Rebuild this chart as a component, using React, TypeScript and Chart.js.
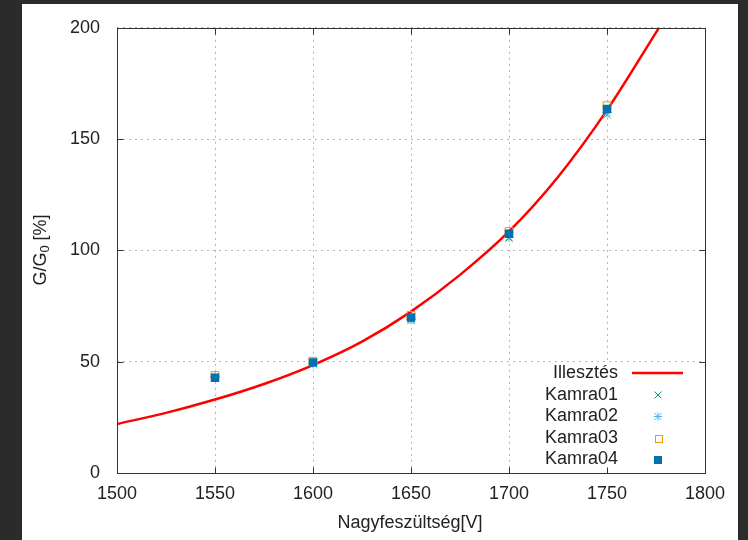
import React, { useEffect, useRef } from 'react';
import { Chart, registerables } from 'chart.js';

Chart.register(...registerables);

const voltages = [1550, 1600, 1650, 1700, 1750];
const kamra01 = [43.0, 49.0, 68.5, 105.5, 161.0];
const kamra02 = [43.2, 49.2, 69.0, 106.0, 162.0];
const kamra03 = [43.8, 50.2, 70.8, 108.5, 165.0];
const kamra04 = [42.8, 49.6, 69.9, 107.5, 163.5];

const fitV = [1500, 1525, 1550, 1575, 1600, 1625, 1650, 1675, 1700, 1725, 1750, 1776.5];
const fitG = [22.0, 27.0, 33.0, 40.0, 48.5, 59.0, 72.5, 89.0, 108.5, 133.0, 163.0, 200.0];

const xTicks = [1500, 1550, 1600, 1650, 1700, 1750, 1800];
const yTicks = [0, 50, 100, 150, 200];

const legendLabels = ['Illesztés', 'Kamra01', 'Kamra02', 'Kamra03', 'Kamra04'];
const xTitle = 'Nagyfeszültség[V]';

const FONT = '"Liberation Sans", Arial, sans-serif';
const TEXT = '#222222';
const C_FIT = '#ff0000';
const C1 = '#009e73';
const C2 = '#56b4e9';
const C3 = '#e69f00';
const C4 = '#0072b2';

function pts(ys: number[], xs: number[]) {
  return xs.map((x, i) => ({ x, y: ys[i] }));
}

function drawMarker(ctx: CanvasRenderingContext2D, kind: string, x: number, y: number, color: string) {
  ctx.save();
  ctx.strokeStyle = color;
  ctx.fillStyle = color;
  ctx.lineWidth = 1;
  const h = 3.5;
  if (kind === 'cross') {
    ctx.beginPath();
    ctx.moveTo(x - h, y - h); ctx.lineTo(x + h, y + h);
    ctx.moveTo(x - h, y + h); ctx.lineTo(x + h, y - h);
    ctx.stroke();
  } else if (kind === 'star') {
    ctx.beginPath();
    ctx.moveTo(x - h, y - h); ctx.lineTo(x + h, y + h);
    ctx.moveTo(x - h, y + h); ctx.lineTo(x + h, y - h);
    ctx.moveTo(x - h * 1.2, y); ctx.lineTo(x + h * 1.2, y);
    ctx.moveTo(x, y - h * 1.2); ctx.lineTo(x, y + h * 1.2);
    ctx.stroke();
  } else if (kind === 'open') {
    ctx.strokeRect(Math.round(x - h) + 0.5, Math.round(y - h) + 0.5, 7, 7);
  } else {
    ctx.fillRect(Math.round(x - 4), Math.round(y - 4), 8, 8);
  }
  ctx.restore();
}

export default function App() {
  const ref = useRef<HTMLCanvasElement>(null);

  useEffect(() => {
    document.body.style.margin = '0';
    document.body.style.background = '#2b2b2b';
    const canvas = ref.current;
    if (!canvas) return;

    const bg = {
      id: 'bg',
      beforeDraw(chart: any) {
        const ctx = chart.ctx as CanvasRenderingContext2D;
        ctx.save();
        ctx.fillStyle = '#2b2b2b';
        ctx.fillRect(0, 0, chart.width, chart.height);
        ctx.fillStyle = '#ffffff';
        ctx.fillRect(22, 4, 716, 536);
        ctx.restore();
      },
    };

    const overlay = {
      id: 'overlay',
      afterDraw(chart: any) {
        const ctx = chart.ctx as CanvasRenderingContext2D;
        const a = chart.chartArea;
        const xs = chart.scales.x;
        const ys = chart.scales.y;
        const L = Math.round(a.left) + 0.5;
        const R = Math.round(a.right) + 0.5;
        const T = Math.round(a.top) + 0.5;
        const B = Math.round(a.bottom) + 0.5;
        ctx.save();

        // legend box (covers grid)
        ctx.fillStyle = '#ffffff';
        ctx.fillRect(538, 364, R - 538, B - 364);

        // legend entries
        const rows = [373, 395, 416.5, 438, 459.5];
        ctx.font = `18px ${FONT}`;
        ctx.fillStyle = TEXT;
        ctx.textAlign = 'right';
        ctx.textBaseline = 'middle';
        legendLabels.forEach((lab, i) => ctx.fillText(lab, 618, rows[i]));
        ctx.strokeStyle = C_FIT;
        ctx.lineWidth = 2.5;
        ctx.beginPath();
        ctx.moveTo(632, rows[0]);
        ctx.lineTo(683, rows[0]);
        ctx.stroke();
        drawMarker(ctx, 'cross', 658, rows[1], C1);
        drawMarker(ctx, 'star', 658, rows[2], C2);
        drawMarker(ctx, 'open', 658, rows[3], C3);
        drawMarker(ctx, 'fill', 658, rows[4], C4);

        // frame
        ctx.strokeStyle = '#333333';
        ctx.lineWidth = 1;
        ctx.strokeRect(L, T, R - L, B - T);

        // inward ticks
        ctx.beginPath();
        const tl = 6;
        xTicks.forEach((v) => {
          const px = Math.round(xs.getPixelForValue(v)) + 0.5;
          ctx.moveTo(px, B); ctx.lineTo(px, B - tl);
          ctx.moveTo(px, T); ctx.lineTo(px, T + tl);
        });
        yTicks.forEach((v) => {
          const py = Math.round(ys.getPixelForValue(v)) + 0.5;
          ctx.moveTo(L, py); ctx.lineTo(L + tl, py);
          ctx.moveTo(R, py); ctx.lineTo(R - tl, py);
        });
        ctx.stroke();

        // x title
        ctx.fillStyle = TEXT;
        ctx.font = `18px ${FONT}`;
        ctx.textAlign = 'center';
        ctx.textBaseline = 'middle';
        ctx.fillText(xTitle, 410, 523);

        // y title (rotated, with subscript)
        ctx.save();
        ctx.translate(41, 250);
        ctx.rotate(-Math.PI / 2);
        const p1 = 'G/G';
        const p2 = '0';
        const p3 = ' [%]';
        ctx.font = `18px ${FONT}`;
        const w1 = ctx.measureText(p1).width;
        const w3 = ctx.measureText(p3).width;
        ctx.font = `13px ${FONT}`;
        const w2 = ctx.measureText(p2).width;
        const total = w1 + w2 + w3;
        let cx = -total / 2;
        ctx.textAlign = 'left';
        ctx.font = `18px ${FONT}`;
        ctx.fillText(p1, cx, 0);
        cx += w1;
        ctx.font = `13px ${FONT}`;
        ctx.fillText(p2, cx, 4);
        cx += w2;
        ctx.font = `18px ${FONT}`;
        ctx.fillText(p3, cx, 0);
        ctx.restore();

        ctx.restore();
      },
    };

    const chart = new Chart(canvas, {
      type: 'scatter',
      data: {
        datasets: [
          {
            label: legendLabels[0],
            data: pts(fitG, fitV),
            showLine: true,
            borderColor: C_FIT,
            borderWidth: 2.5,
            pointRadius: 0,
            cubicInterpolationMode: 'monotone',
            order: 10,
          } as any,
          {
            label: legendLabels[1],
            data: pts(kamra01, voltages),
            pointStyle: 'crossRot',
            pointRadius: 5,
            borderColor: C1,
            backgroundColor: C1,
            borderWidth: 1,
            order: 4,
          },
          {
            label: legendLabels[2],
            data: pts(kamra02, voltages),
            pointStyle: 'star',
            pointRadius: 5,
            borderColor: C2,
            backgroundColor: C2,
            borderWidth: 1,
            order: 3,
          },
          {
            label: legendLabels[3],
            data: pts(kamra03, voltages),
            pointStyle: 'rect',
            pointRadius: 5.5,
            borderColor: C3,
            backgroundColor: 'rgba(0,0,0,0)',
            borderWidth: 1,
            order: 2,
          },
          {
            label: legendLabels[4],
            data: pts(kamra04, voltages),
            pointStyle: 'rect',
            pointRadius: 6,
            borderColor: C4,
            backgroundColor: C4,
            borderWidth: 0,
            order: 1,
          },
        ],
      },
      options: {
        responsive: false,
        animation: false,
        events: [],
        layout: { padding: { top: 25, right: 43, left: 0, bottom: 0 } },
        plugins: { legend: { display: false }, tooltip: { enabled: false }, title: { display: false } },
        scales: {
          x: {
            type: 'linear',
            min: 1500,
            max: 1800,
            afterFit: (s: any) => { s.height = 67; },
            afterBuildTicks: (s: any) => { s.ticks = xTicks.map((v) => ({ value: v })); },
            ticks: {
              font: { family: FONT, size: 18 },
              color: TEXT,
              padding: 10,
              maxRotation: 0,
              autoSkip: false,
              callback: (v: any) => String(v),
            },
            grid: { color: '#b4b4b4', lineWidth: 1, drawTicks: false },
            border: { display: false, dash: [2, 4] },
          },
          y: {
            type: 'linear',
            min: 0,
            max: 200,
            afterFit: (s: any) => { s.width = 117; },
            afterBuildTicks: (s: any) => { s.ticks = yTicks.map((v) => ({ value: v })); },
            ticks: {
              font: { family: FONT, size: 18 },
              color: TEXT,
              padding: 17,
              autoSkip: false,
              callback: (v: any) => String(v),
            },
            grid: { color: '#b4b4b4', lineWidth: 1, drawTicks: false },
            border: { display: false, dash: [2, 4] },
          },
        },
      } as any,
      plugins: [bg, overlay],
    });

    return () => chart.destroy();
  }, []);

  return <canvas ref={ref} width={748} height={540} style={{ display: 'block' }} />;
}
